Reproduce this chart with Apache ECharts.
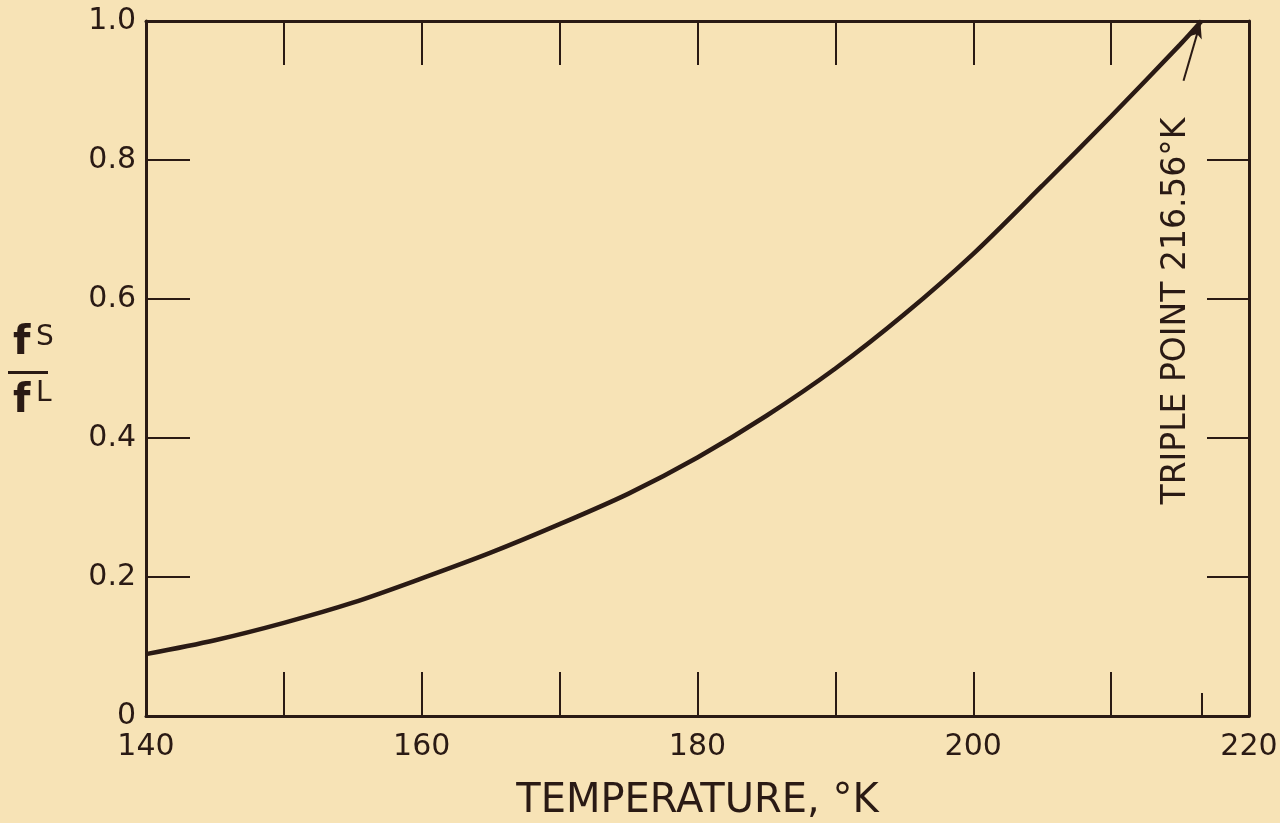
<!DOCTYPE html>
<html>
<head>
<meta charset="utf-8">
<script src="https://cdn.jsdelivr.net/npm/echarts@6/dist/echarts.min.js"></script>
<style>
html,body{margin:0;padding:0;background:#F7E3B6;}
#c{width:1280px;height:823px;}
</style>
</head>
<body>
<div id="c"></div>
<script>
// Data
const temperatures = [140, 145, 150, 155, 160, 165, 170, 175, 180, 185, 190, 195, 200, 205, 210, 215, 216.56];
const ratioValues  = [0.089, 0.109, 0.134, 0.163, 0.198, 0.235, 0.276, 0.320, 0.372, 0.432, 0.500, 0.578, 0.665, 0.763, 0.863, 0.966, 1.0];
const xTickLabels = ['140', '160', '180', '200', '220'];
const yTickLabels = ['0', '0.2', '0.4', '0.6', '0.8', '1.0'];
const triplePointT = 216.56;
const tripleTickTop = 0.033;
const arrowStart = [215.25, 0.914];
const arrowEnd = [216.48, 0.998];
const annotationText = 'TRIPLE POINT 216.56°K';
const xTitle = 'TEMPERATURE, °K';

const ink = '#2a1a14';
const font = 'DejaVu Sans';

const chart = echarts.init(document.getElementById('c'), null, {renderer: 'canvas'});

const seriesData = temperatures.map((t, i) => [t, ratioValues[i]]);

const axisLineStyle = {show: true, onZero: false, lineStyle: {color: ink, width: 3}};

const option = {
  backgroundColor: '#F7E3B6',
  animation: false,
  grid: {left: 146, right: 31, top: 21, bottom: 107, show: false, containLabel: false, outerBoundsMode: 'none'},
  xAxis: [
    {
      type: 'value', position: 'bottom', min: 140, max: 220, interval: 10,
      axisLine: axisLineStyle,
      axisTick: {show: true, inside: true, length: 44, lineStyle: {color: ink, width: 2}},
      splitLine: {show: false},
      axisLabel: {
        color: ink, fontFamily: font, fontSize: 30, margin: 16,
        formatter: v => xTickLabels.indexOf(String(v)) >= 0 ? String(v) : ''
      },
      name: xTitle, nameLocation: 'middle', nameGap: 66,
      nameTextStyle: {color: ink, fontFamily: font, fontSize: 40}
    },
    {
      type: 'value', position: 'top', min: 140, max: 220, interval: 10,
      axisLine: axisLineStyle,
      axisTick: {show: true, inside: true, length: 44, lineStyle: {color: ink, width: 2}},
      splitLine: {show: false},
      axisLabel: {show: false}
    }
  ],
  yAxis: [
    {
      type: 'value', position: 'left', min: 0, max: 1, interval: 0.2,
      axisLine: axisLineStyle,
      axisTick: {show: true, inside: true, length: 44, lineStyle: {color: ink, width: 2}},
      splitLine: {show: false},
      axisLabel: {
        color: ink, fontFamily: font, fontSize: 30, margin: 10,
        formatter: v => yTickLabels[Math.round(v / 0.2)]
      }
    },
    {
      type: 'value', position: 'right', min: 0, max: 1, interval: 0.2,
      axisLine: axisLineStyle,
      axisTick: {show: true, inside: true, length: 42, lineStyle: {color: ink, width: 2}},
      splitLine: {show: false},
      axisLabel: {show: false}
    }
  ],
  series: [
    {
      type: 'line', xAxisIndex: 0, yAxisIndex: 0,
      data: seriesData, smooth: 0.3, showSymbol: false,
      lineStyle: {color: ink, width: 4.5},
      markLine: {
        silent: true, animation: false,
        label: {show: false},
        data: [
          [
            {coord: [triplePointT, 0], symbol: 'none', lineStyle: {color: ink, width: 2, type: 'solid'}},
            {coord: [triplePointT, tripleTickTop], symbol: 'none'}
          ],
          [
            {coord: arrowStart, symbol: 'none', lineStyle: {color: ink, width: 2, type: 'solid'}},
            {coord: arrowEnd, symbol: 'arrow', symbolSize: [9, 16]}
          ]
        ]
      }
    }
  ],
  graphic: [
    {
      type: 'text', x: 1176, y: 311, rotation: Math.PI / 2,
      style: {
        text: annotationText, fill: ink, font: '33px "DejaVu Sans"',
        textAlign: 'center', textVerticalAlign: 'middle'
      }
    },
    // y-axis label: f^S / f^L
    {type: 'text', x: 13, y: 324, style: {text: 'f', fill: ink, font: 'bold 40px "DejaVu Sans"'}},
    {type: 'text', x: 36, y: 324, style: {text: 'S', fill: ink, font: '28px "DejaVu Sans"'}},
    {type: 'rect', shape: {x: 8, y: 371, width: 40, height: 3}, style: {fill: ink}},
    {type: 'text', x: 13, y: 382, style: {text: 'f', fill: ink, font: 'bold 40px "DejaVu Sans"'}},
    {type: 'text', x: 36, y: 380, style: {text: 'L', fill: ink, font: '28px "DejaVu Sans"'}}
  ]
};

chart.setOption(option);
</script>
</body>
</html>
